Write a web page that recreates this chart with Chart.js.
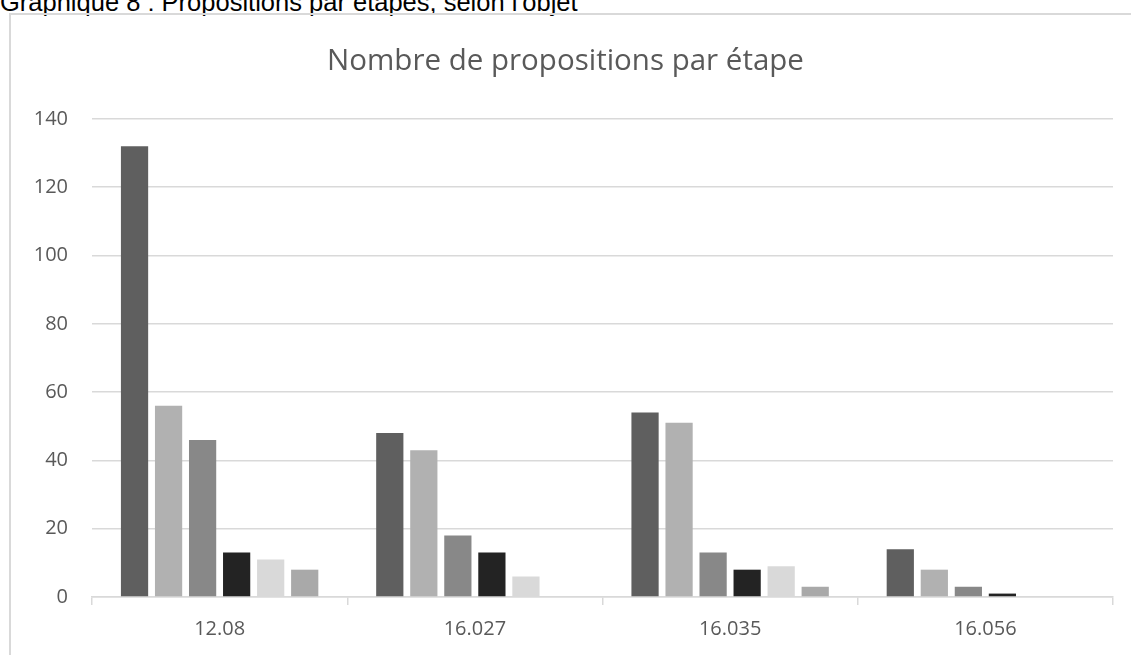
<!DOCTYPE html>
<html>
<head>
<meta charset="utf-8">
<script src="https://cdn.jsdelivr.net/npm/chart.js@4"></script>
<style>
  body { margin: 0; background: #fff; overflow: hidden; }
  #caption {
    position: absolute; left: 0; top: -12px;
    font-family: "Liberation Sans", Arial, sans-serif; font-size: 25.5px; color: #000;
    white-space: nowrap;
  }
  #frame {
    position: absolute; left: 9px; top: 13px; width: 1200px; height: 700px;
    border-top: 2px solid #d9d9d9; border-left: 2px solid #d9d9d9;
  }
  #wrap { position: absolute; left: 0; top: 0; width: 1131px; height: 655px; }
</style>
</head>
<body>
<div id="caption">Graphique 8 : Propositions par étapes, selon l'objet</div>
<div id="frame"></div>
<div id="wrap"><canvas id="propositions-chart"></canvas></div>
<script>
/* Data */
let etapes = ['12.08', '16.027', '16.035', '16.056']
let serie1 = [132, 48, 54, 14]
let serie2 = [56, 43, 51, 8]
let serie3 = [46, 18, 13, 3]
let serie4 = [13, 13, 8, 1]
let serie5 = [11, 6, 9, 0]
let serie6 = [8, 0, 3, 0]

// one gray per series, dark to light like the original sheet
let grays = ['#5f5f5f', '#b1b1b1', '#888888', '#232323', '#d9d9d9', '#a9a9a9']
let allSeries = [serie1, serie2, serie3, serie4, serie5, serie6]

let datasets = allSeries.map(function (values, i) {
    return {
        label: 'Série ' + (i + 1),
        data: values,
        backgroundColor: grays[i],
        categoryPercentage: 0.8,
        barPercentage: 0.8
    }
})

let textColor = '#595959'
let gridColor = '#d9d9d9'

let ctx = document.querySelector('#propositions-chart').getContext('2d')

let propositionsChart = new Chart(ctx, {
    type: 'bar',
    data: {
        labels: etapes,
        datasets: datasets
    },
    options: {
        responsive: true,
        maintainAspectRatio: false,
        animation: false,
        // same padding both sides so the title sits in the middle of the frame
        layout: { padding: { left: 18, right: 18, top: 0, bottom: 0 } },
        plugins: {
            legend: { display: false },
            tooltip: { enabled: false },
            title: {
                display: true,
                text: 'Nombre de propositions par étape',
                color: textColor,
                font: { family: 'Open Sans', size: 29.5, weight: 'normal' },
                padding: { top: 44, bottom: 39.5 }
            }
        },
        scales: {
            x: {
                grid: {
                    display: true,
                    drawOnChartArea: false,
                    drawTicks: true,
                    tickLength: 8,
                    color: gridColor,
                    lineWidth: 1.5
                },
                border: { display: true, color: gridColor, width: 1.5 },
                ticks: {
                    color: textColor,
                    font: { family: 'Open Sans', size: 20 },
                    padding: 12
                },
                afterFit: function (scale) { scale.height = 58 }
            },
            y: {
                min: 0,
                max: 140,
                ticks: {
                    stepSize: 20,
                    color: textColor,
                    font: { family: 'Open Sans', size: 20 },
                    padding: 24
                },
                grid: { color: gridColor, lineWidth: 1.5, drawTicks: false },
                border: { display: false },
                afterFit: function (scale) { scale.width = 74 }
            }
        }
    }
})
</script>
</body>
</html>
